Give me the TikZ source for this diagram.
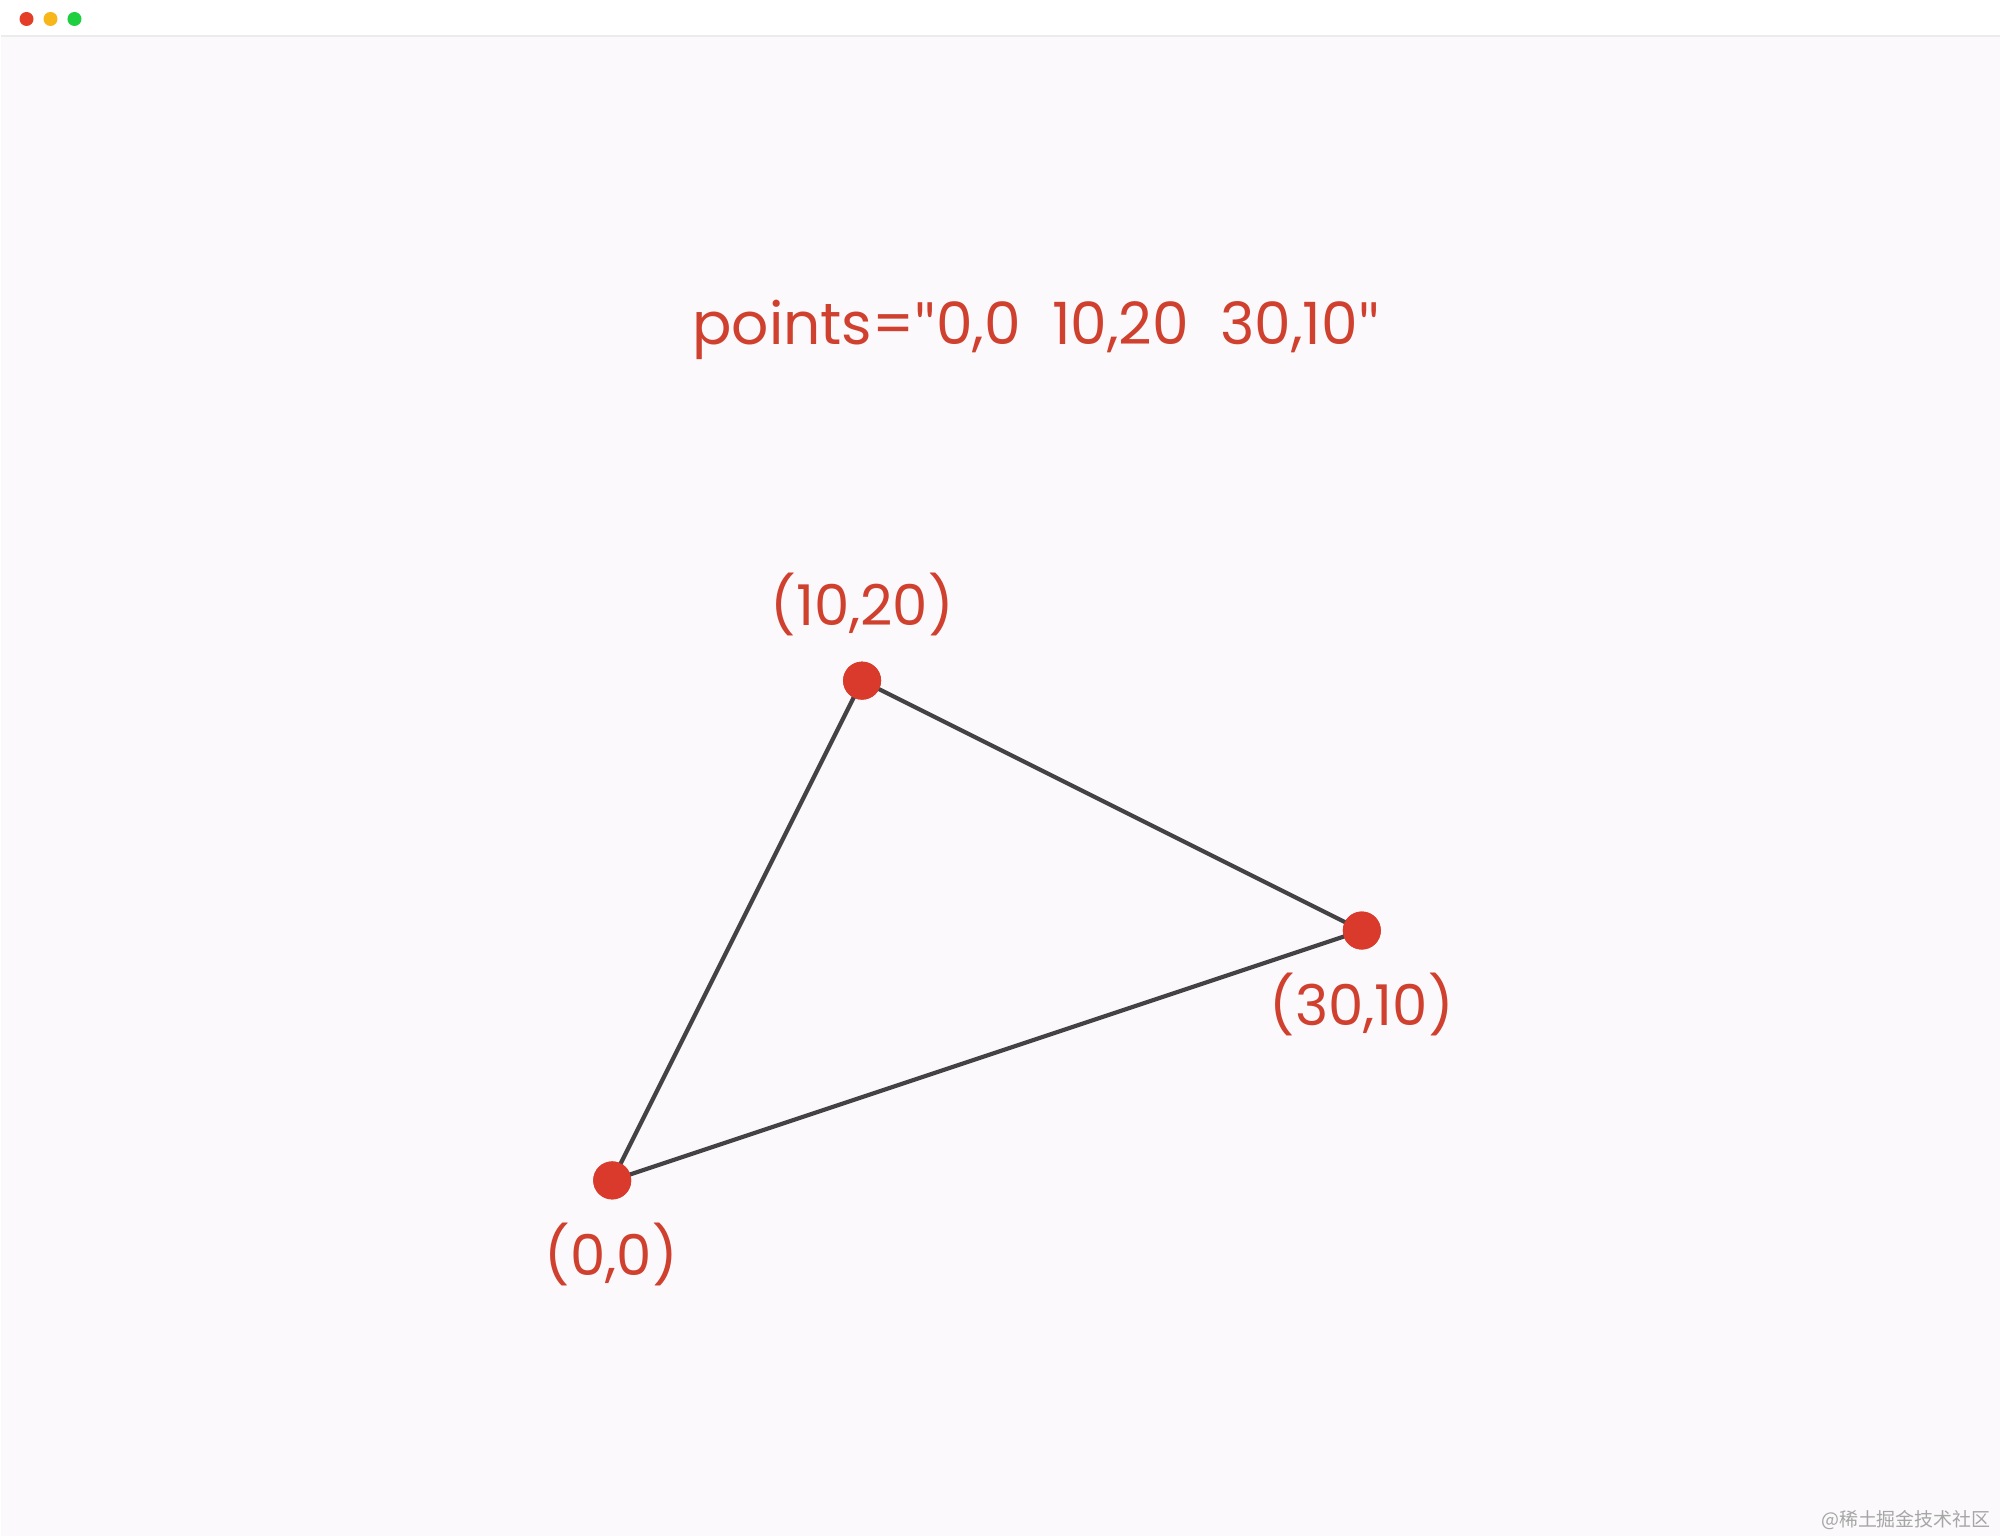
\documentclass[tikz,border=0pt]{standalone}
\usepackage{fontspec}
\setmainfont{Poppins}
\newfontfamily\cjk{Noto Sans CJK SC}
\newfontfamily\quotefont{Lato}
\usepackage{xcolor}
\usetikzlibrary{positioning}

\definecolor{pagebg}{HTML}{FBF9FB}
\definecolor{dotred}{HTML}{D93A2B}
\definecolor{txtred}{HTML}{D0402F}
\definecolor{edgegray}{HTML}{454245}

\newcommand{\dquote}{{\quotefont\char34}}

\begin{document}
\begin{tikzpicture}[x=0.1mm,y=-0.1mm]
  \tikzstyle{vertex}=[circle,fill=dotred,inner sep=0pt,minimum size=3.8mm]
  \tikzstyle{coordlabel}=[text=txtred,font=\fontsize{16pt}{19pt}\selectfont,inner sep=0pt]
  \tikzstyle{winbtn}=[circle,inner sep=0pt,minimum size=1.4mm]

  % page and window bar
  \fill[pagebg] (0,0) rectangle (2000,1537);
  \fill[white] (0,0) rectangle (2000,36);
  \draw[gray!15,line width=0.3pt] (0,36) -- (2000,36);
  \useasboundingbox (0,0) rectangle (2000,1537);
  \node[winbtn,fill={rgb,255:red,229;green,62;blue,40}] (btnclose) at (26,19) {};
  \node[winbtn,fill={rgb,255:red,247;green,182;blue,25}] (btnmin) at (50,19) {};
  \node[winbtn,fill={rgb,255:red,30;green,208;blue,64}] (btnmax) at (74,19) {};

  \node[coordlabel,font=\fontsize{16.6pt}{19pt}\selectfont] (points) at (1036,330)
    {points=\dquote0,0\ \ 10,20\ \ 30,10\dquote};

  \node[vertex] (p0) at (612,1181) {};
  \node[vertex] (p1) at (862,681) {};
  \node[vertex] (p2) at (1362,931) {};

  \node[coordlabel] (l1) at (862,605) {(10,20)};
  \node[coordlabel] (l2) at (1362,1005) {(30,10)};
  \node[coordlabel] (l0) at (611,1255) {(0,0)};

  \path[draw=edgegray,line width=1.2pt]
  (p0.center) edge (p1.center)
  (p1.center) edge (p2.center)
  (p2.center) edge (p0.center);
  \node[vertex] at (p0) {};
  \node[vertex] at (p1) {};
  \node[vertex] at (p2) {};

  \node[text=gray!70,font=\cjk\fontsize{5.4pt}{6pt}\selectfont,anchor=east,inner sep=0pt] (mark) at (1992,1521) {@稀土掘金技术社区};
\end{tikzpicture}
\end{document}
